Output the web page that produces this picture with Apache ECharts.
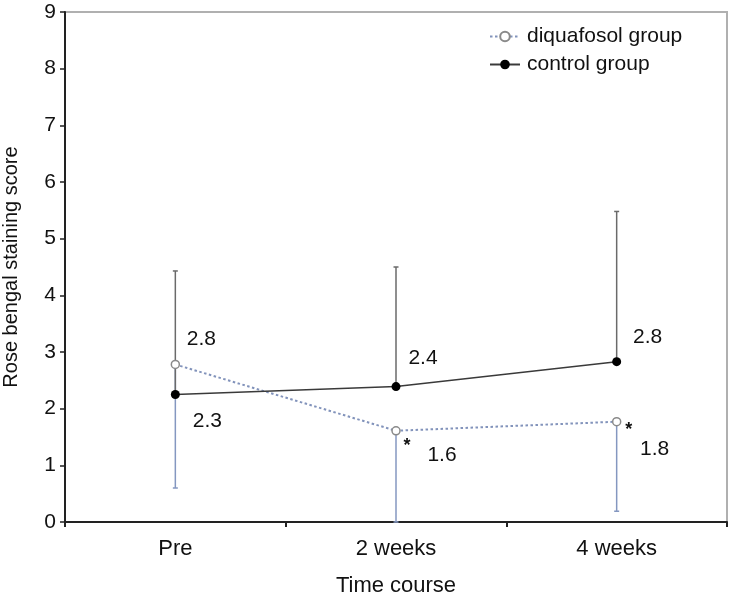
<!DOCTYPE html>
<html>
<head>
<meta charset="utf-8">
<script src="https://cdn.jsdelivr.net/npm/echarts@6/dist/echarts.min.js"></script>
<style>html,body{margin:0;padding:0;background:#fff;}#c{width:733px;height:595px;}</style>
</head>
<body>
<div id="c"></div>
<script>
var categories = ['Pre', '2 weeks', '4 weeks'];
var diquafosol = [2.78, 1.61, 1.77];
var control = [2.25, 2.39, 2.83];
var controlUpper = [4.43, 4.50, 5.48];
var diquafosolLower = [0.60, 0.0, 0.19];
var diquafosolLabels = ['2.8', '1.6', '1.8'];
var controlLabels = ['2.3', '2.4', '2.8'];
var significance = ['', '*', '*'];
var yTicks = [0, 1, 2, 3, 4, 5, 6, 7, 8, 9];

var FONT = 'Liberation Sans, Arial, sans-serif';
var chart = echarts.init(document.getElementById('c'), null, {renderer: 'canvas'});

// label offsets (pixels) per category
var dqLabelOff = [[26, -25], [46, 24], [38, 28]];
var ctLabelOff = [[32, 27], [27, -28], [31, -24]];
var starOff = [[0, 0], [11, 15], [12, 8]];

function errBar(api, x, v0, v1, color) {
  var p0 = api.coord([x, v0]);
  var p1 = api.coord([x, v1]);
  return [
    {type: 'line', shape: {x1: p0[0], y1: p0[1], x2: p1[0], y2: p1[1]}, style: {stroke: color, lineWidth: 1.5}},
    {type: 'line', shape: {x1: p1[0] - 2.5, y1: p1[1], x2: p1[0] + 2.5, y2: p1[1]}, style: {stroke: color, lineWidth: 1.5}}
  ];
}

var option = {
  animation: false,
  backgroundColor: '#fff',
  grid: {left: 65, top: 12, width: 662, height: 510, show: true, borderColor: '#b0b0b0', borderWidth: 2,
    backgroundColor: 'transparent', containLabel: false, outerBoundsMode: 'none'},
  legend: {
    data: ['diquafosol group', 'control group'],
    orient: 'vertical',
    left: 484, top: 21,
    itemWidth: 30, itemHeight: 12, itemGap: 7,
    textStyle: {fontFamily: FONT, fontSize: 21, color: '#111', lineHeight: 21, padding: [0, 0, 0, 2]}
  },
  xAxis: {
    type: 'category', data: categories,
    boundaryGap: true,
    axisLine: {lineStyle: {color: '#222', width: 2}},
    axisTick: {show: true, length: 5, lineStyle: {color: '#222', width: 2}},
    axisLabel: {fontFamily: FONT, fontSize: 22, color: '#111', margin: 16},
    name: 'Time course', nameLocation: 'middle', nameGap: 53,
    nameTextStyle: {fontFamily: FONT, fontSize: 22, color: '#111'}
  },
  yAxis: {
    type: 'value', min: 0, max: 9, interval: 1,
    axisLine: {show: true, lineStyle: {color: '#222', width: 2}},
    axisTick: {show: true, length: 5, lineStyle: {color: '#222', width: 1.5}},
    splitLine: {show: false},
    axisLabel: {fontFamily: FONT, fontSize: 21, color: '#111', margin: 9,
      formatter: function (v) { return yTicks.indexOf(v) >= 0 ? String(v) : ''; }},
    name: 'Rose bengal staining score', nameLocation: 'middle', nameGap: 44,
    nameTextStyle: {fontFamily: FONT, fontSize: 20, color: '#111'}
  },
  series: [
    {
      type: 'custom', name: 'errors', z: 1, silent: true,
      data: categories.map(function (c, i) { return [i]; }),
      renderItem: function (params, api) {
        var i = api.value(0);
        var kids = [];
        kids = kids.concat(errBar(api, i, diquafosol[i], diquafosolLower[i], '#8497c0'));
        kids = kids.concat(errBar(api, i, control[i], controlUpper[i], '#6a6a6a'));
        return {type: 'group', children: kids};
      }
    },
    {
      type: 'line', name: 'diquafosol group', data: diquafosol, z: 3,
      symbol: 'circle', symbolSize: 8,
      lineStyle: {color: '#8293bb', width: 2, type: [2.5, 2.5]},
      itemStyle: {color: '#ffffff', borderColor: '#8a8a8a', borderWidth: 1.5}
    },
    {
      type: 'line', name: 'control group', data: control, z: 4,
      symbol: 'circle', symbolSize: 9,
      lineStyle: {color: '#3a3a3a', width: 1.5},
      itemStyle: {color: '#000', borderColor: '#000', borderWidth: 0}
    },
    {
      type: 'custom', name: 'labels', z: 5, silent: true,
      data: categories.map(function (c, i) { return [i]; }),
      renderItem: function (params, api) {
        var i = api.value(0);
        var pd = api.coord([i, diquafosol[i]]);
        var pc = api.coord([i, control[i]]);
        var ts = {fontFamily: FONT, fontSize: 21, fill: '#111', align: 'center', verticalAlign: 'middle'};
        var kids = [
          {type: 'text', style: Object.assign({}, ts, {text: diquafosolLabels[i], x: pd[0] + dqLabelOff[i][0], y: pd[1] + dqLabelOff[i][1]})},
          {type: 'text', style: Object.assign({}, ts, {text: controlLabels[i], x: pc[0] + ctLabelOff[i][0], y: pc[1] + ctLabelOff[i][1]})}
        ];
        if (significance[i]) {
          kids.push({type: 'text', style: Object.assign({}, ts, {text: significance[i], fontSize: 18, fontWeight: 'bold', x: pd[0] + starOff[i][0], y: pd[1] + starOff[i][1]})});
        }
        return {type: 'group', children: kids};
      }
    }
  ]
};
chart.setOption(option);
</script>
</body>
</html>
